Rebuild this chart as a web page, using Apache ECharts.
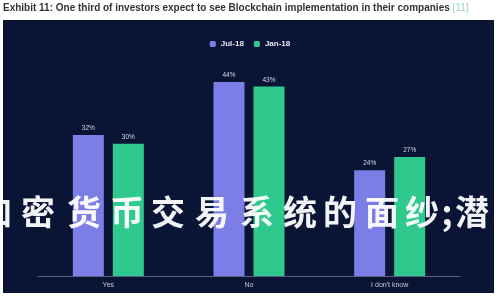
<!DOCTYPE html>
<html><head><meta charset="utf-8">
<script src="https://cdn.jsdelivr.net/npm/echarts@6/dist/echarts.min.js"></script>
<style>html,body{margin:0;padding:0;background:#fff}#c{width:500px;height:300px}</style>
</head><body><div id="c"></div>
<script>
const categories = ["Yes", "No", "I don't know"];
const jul18 = [32, 44, 24];
const jan18 = [30, 43, 27];
const seriesNames = ["Jul-18", "Jan-18"];
const titleText = "Exhibit 11: One third of investors expect to see Blockchain implementation in their companies ";
const titleRef = "[11]";
const watermarkChars = ["加","密","货","币","交","易","系","统","的","面","纱",";","潜","."];
const watermarkX = [-5,38,84,127,168,212,257,300,340,382,422,447,472,497];

const chart = echarts.init(document.getElementById('c'), null, {renderer:'canvas'});
const wm = watermarkChars.map((ch,i)=>({
  type:'text', z:100, x: watermarkX[i], y: 212,
  style:{text:ch, fill:'#ffffff', font:'bold 34px "Noto Sans CJK SC"', textAlign:'center', textVerticalAlign:'middle', opacity:0.95}
}));
chart.setOption({
  backgroundColor:'#ffffff',
  animation:false,
  graphic:[
    {type:'rect', z:-10, shape:{x:3,y:20,width:491,height:273}, style:{fill:'#0a1435'}},
    {type:'text', x:3, y:8, style:{rich:{a:{fill:'#333333',font:'bold 10px "Liberation Sans"'},b:{fill:'#9ad6c4',font:'10px "Liberation Sans"'}}, text:'{a|'+titleText+'}{b|'+titleRef+'}', textVerticalAlign:'middle'}},
    ...wm
  ],
  legend:{
    top:35, left:'center', itemWidth:6, itemHeight:6, itemGap:10, icon:'roundRect',
    textStyle:{color:'#e8e8f0', fontSize:8, fontWeight:'bold', fontFamily:'Liberation Sans'},
    data:seriesNames
  },
  grid:{left:38, right:40, top:82, bottom:24},
  xAxis:{type:'category', data:categories,
    axisLine:{lineStyle:{color:'#5a6080', width:1}}, axisTick:{show:false},
    axisLabel:{color:'#c8cad6', fontSize:7, fontFamily:'Liberation Sans', margin:6}},
  yAxis:{type:'value', min:0, max:44, show:false, splitLine:{show:false}},
  series:[
    {name:seriesNames[0], type:'bar', data:jul18, barWidth:31, barGap:'29%', itemStyle:{color:'#7b7ee6'},
     label:{show:true, position:'top', formatter:'{c}%', color:'#d8d8e6', fontSize:6.5, distance:3}},
    {name:seriesNames[1], type:'bar', data:jan18, barWidth:31, itemStyle:{color:'#2fc98e'},
     label:{show:true, position:'top', formatter:'{c}%', color:'#d8d8e6', fontSize:6.5, distance:3}}
  ]
});
</script></body></html>
